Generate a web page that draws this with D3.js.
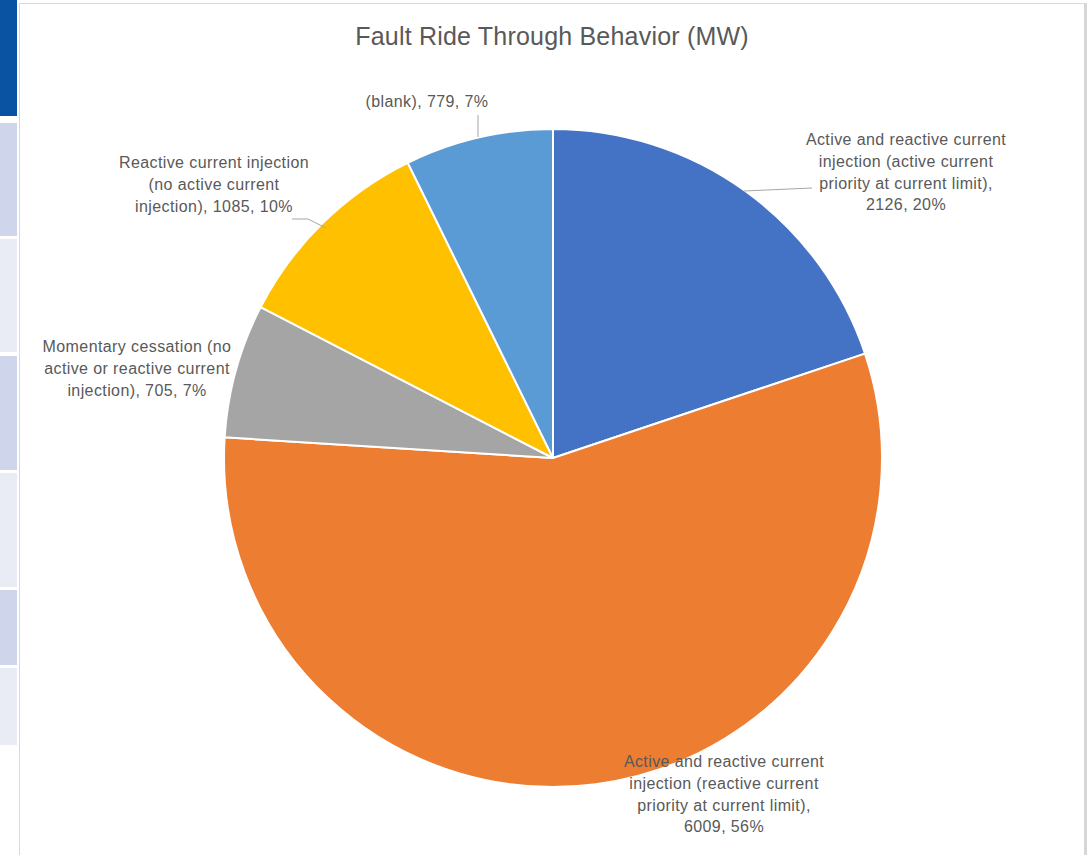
<!DOCTYPE html>
<html><head><meta charset="utf-8">
<script src="https://cdn.jsdelivr.net/npm/d3@7"></script>
<style>html,body{margin:0;padding:0;background:#fff;overflow:hidden}</style>
</head><body>
<svg id="c" width="1087" height="855"></svg>
<script>
const categories = [
  "Active and reactive current injection (active current priority at current limit)",
  "Active and reactive current injection (reactive current priority at current limit)",
  "Momentary cessation (no active or reactive current injection)",
  "Reactive current injection (no active current injection)",
  "(blank)"
];
const values = [2126, 6009, 705, 1085, 779];
const percents = ["20%", "56%", "7%", "10%", "7%"];
const colors = ["#4472c4", "#ed7d31", "#a5a5a5", "#ffc000", "#5b9bd5"];
const labelLines = [
  ["Active and reactive current", "injection (active current", "priority at current limit),", "2126, 20%"],
  ["Active and reactive current", "injection (reactive current", "priority at current limit),", "6009, 56%"],
  ["Momentary cessation (no", "active or reactive current", "injection), 705, 7%"],
  ["Reactive current injection", "(no active current", "injection), 1085, 10%"],
  ["(blank), 779, 7%"]
];
const sidebarColors = ["#0a53a3", "#cfd5ea", "#e9ebf5", "#cfd5ea", "#e9ebf5", "#cfd5ea", "#e9ebf5"];
const sidebarBounds = [[0,116],[123,236],[239,352],[356,470],[473,587],[590,665],[668,745]];

const svg = d3.select("#c");
const font = "'Liberation Sans', Arial, sans-serif";

// sidebar
svg.selectAll("rect.side").data(sidebarBounds).join("rect")
  .attr("x", 0).attr("y", d => d[0]).attr("width", 17).attr("height", d => d[1]-d[0])
  .attr("fill", (d,i) => sidebarColors[i]);

// frame
svg.append("line").attr("x1",19.5).attr("x2",19.5).attr("y1",3).attr("y2",855).attr("stroke","#d9d9d9");
svg.append("line").attr("x1",19).attr("x2",1084).attr("y1",3.5).attr("y2",3.5).attr("stroke","#d9d9d9");
svg.append("rect").attr("x",1084).attr("y",3).attr("width",3).attr("height",852).attr("fill","#d6d6d6");

// title
svg.append("text").attr("x", 552).attr("y", 45).attr("text-anchor","middle")
  .attr("font-family", font).attr("font-size", 25).attr("letter-spacing", 0.2).attr("fill","#595959")
  .text("Fault Ride Through Behavior (MW)");

const cx = 553, cy = 458, r = 329;
const pie = d3.pie().sort(null).value(d => d);
const arcs = pie(values);
const arc = d3.arc().innerRadius(0).outerRadius(r);
const g = svg.append("g").attr("transform", `translate(${cx},${cy})`);
g.selectAll("path").data(arcs).join("path")
  .attr("d", arc).attr("fill", (d,i) => colors[i])
  .attr("stroke", "#fff").attr("stroke-width", 2).attr("stroke-linejoin","round");

// labels (label block centers / first baselines)
const labelPos = [[906,145],[724,767],[137,352],[214,168],[427,107]];
const lineH = 21.8;
const lab = svg.append("g").attr("font-family", font).attr("font-size", 16)
  .attr("letter-spacing", 0.4).attr("fill", "#595959");
labelLines.forEach((lines, i) => {
  const t = lab.append("text").attr("text-anchor","middle");
  lines.forEach((s, j) => {
    t.append("tspan").attr("x", labelPos[i][0]).attr("y", labelPos[i][1] + j*lineH).text(s);
  });
});

// leader lines
const leaders = [
  [[744,191],[812,188]],
  [[292,219],[308,219],[326,228]],
  [[478,115],[478,137]]
];
svg.append("g").selectAll("path").data(leaders).join("path")
  .attr("d", d => d3.line()(d)).attr("stroke","#a6a6a6").attr("fill","none").attr("stroke-width",1);
</script>
</body></html>
